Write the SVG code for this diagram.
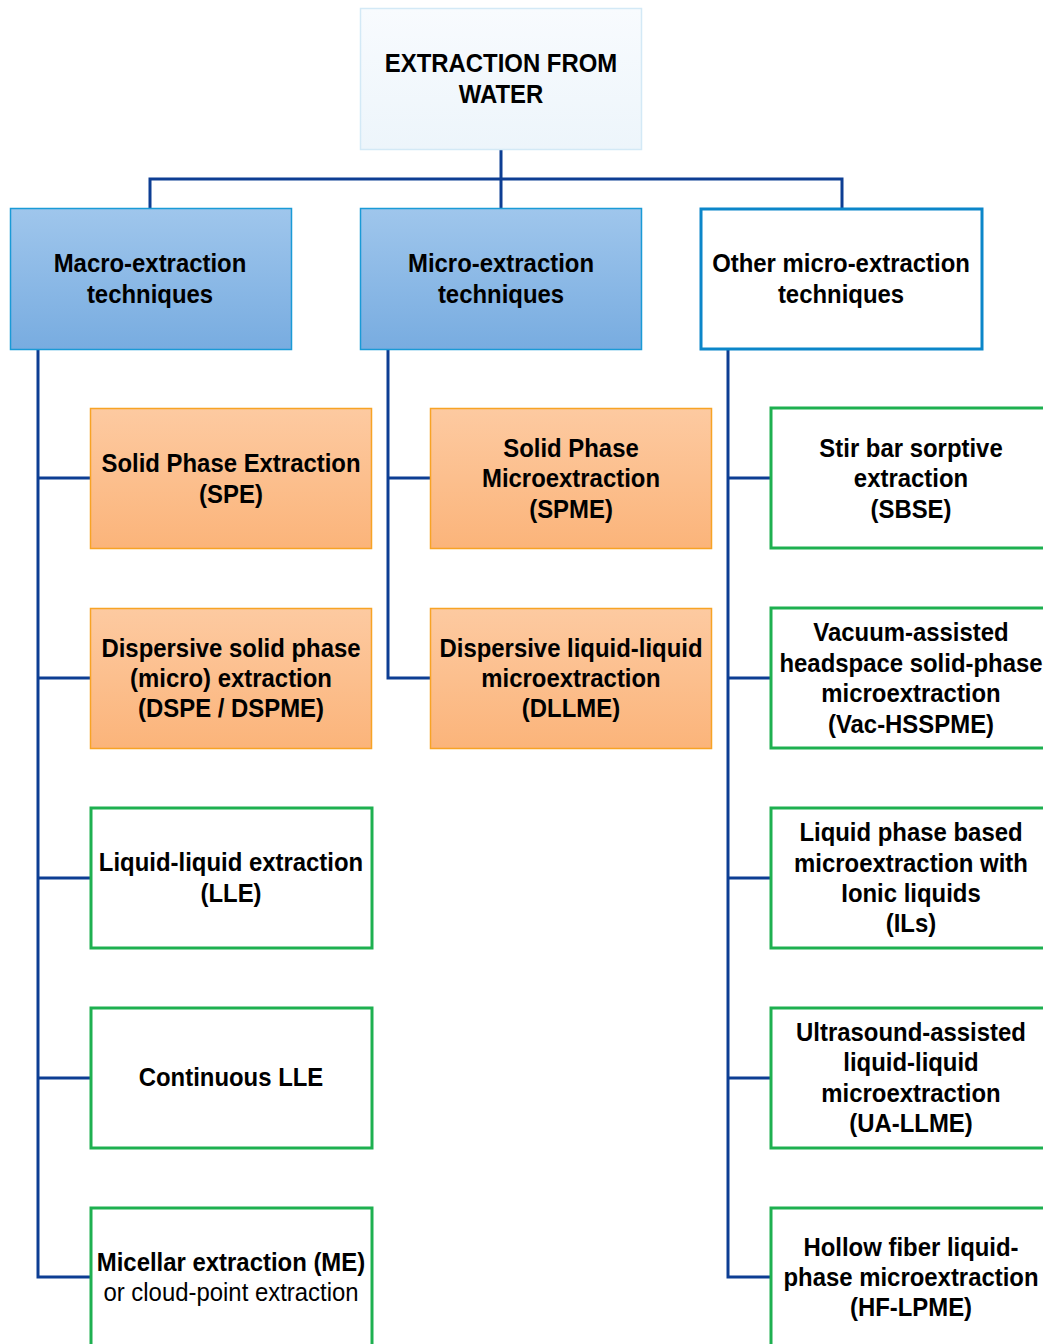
<svg xmlns="http://www.w3.org/2000/svg" width="1043" height="1344" viewBox="0 0 1043 1344">
  <defs>
    <linearGradient id="gBlue" x1="0" y1="0" x2="0" y2="1">
      <stop offset="0" stop-color="#9fc6ec"/>
      <stop offset="1" stop-color="#78ace0"/>
    </linearGradient>
    <linearGradient id="gOrange" x1="0" y1="0" x2="0" y2="1">
      <stop offset="0" stop-color="#fdcaa1"/>
      <stop offset="1" stop-color="#fbb47a"/>
    </linearGradient>
    <linearGradient id="gPale" x1="0" y1="0" x2="0" y2="1">
      <stop offset="0" stop-color="#f8fbfe"/>
      <stop offset="1" stop-color="#edf5fb"/>
    </linearGradient>
    <style>
      .lbl { font-family: "Liberation Sans", Arial, sans-serif; font-size: 26px; font-weight: bold; fill: #000; text-anchor: middle; }
      .reg { font-weight: normal; }
      .root { fill: url(#gPale); stroke: #d3e9f6; stroke-width: 1.5; }
      .cat { fill: url(#gBlue); stroke: #1a9ad6; stroke-width: 1.5; }
      .catw { fill: #fff; stroke: #0b86c9; stroke-width: 3; }
      .orange { fill: url(#gOrange); stroke: #f7a325; stroke-width: 1.5; }
      .green { fill: #fff; stroke: #1eb050; stroke-width: 3; }
      .conn { fill: none; stroke: #0d3e93; stroke-width: 3; }
    </style>
  </defs>

  <!-- connectors -->
  <g id="connectors" class="conn">
    <path d="M501 149 V208 M150 208 V179 H842 V208"/>
    <!-- macro branch -->
    <path d="M38 349 V1277 H90 M38 478 H90 M38 678 H90 M38 878 H90 M38 1078 H90"/>
    <!-- micro branch -->
    <path d="M388 349 V678 H430 M388 478 H430"/>
    <!-- other micro branch -->
    <path d="M728 349 V1277 H770 M728 478 H770 M728 678 H770 M728 878 H770 M728 1078 H770"/>
  </g>

  <!-- root -->
  <g id="root">
    <rect class="root" x="360.5" y="8.5" width="281" height="141"/>
    <text class="lbl" transform="matrix(0.92 0 0 1 501 0)" x="0" y="72">EXTRACTION FROM</text>
    <text class="lbl" transform="matrix(0.92 0 0 1 501 0)" x="0" y="103">WATER</text>
  </g>

  <!-- level 2 -->
  <g id="macro">
    <rect class="cat" x="10.5" y="208.5" width="281" height="141"/>
    <text class="lbl" transform="matrix(0.92 0 0 1 150 0)" x="0" y="272">Macro-extraction</text>
    <text class="lbl" transform="matrix(0.92 0 0 1 150 0)" x="0" y="303">techniques</text>
  </g>
  <g id="micro">
    <rect class="cat" x="360.5" y="208.5" width="281" height="141"/>
    <text class="lbl" transform="matrix(0.92 0 0 1 501 0)" x="0" y="272">Micro-extraction</text>
    <text class="lbl" transform="matrix(0.92 0 0 1 501 0)" x="0" y="303">techniques</text>
  </g>
  <g id="other">
    <rect class="catw" x="701" y="209" width="281" height="140"/>
    <text class="lbl" transform="matrix(0.92 0 0 1 841 0)" x="0" y="272">Other micro-extraction</text>
    <text class="lbl" transform="matrix(0.92 0 0 1 841 0)" x="0" y="303">techniques</text>
  </g>

  <!-- macro column -->
  <g id="spe">
    <rect class="orange" x="90.5" y="408.5" width="281" height="140"/>
    <text class="lbl" transform="matrix(0.92 0 0 1 231 0)" x="0" y="472">Solid Phase Extraction</text>
    <text class="lbl" transform="matrix(0.92 0 0 1 231 0)" x="0" y="503">(SPE)</text>
  </g>
  <g id="dspe">
    <rect class="orange" x="90.5" y="608.5" width="281" height="140"/>
    <text class="lbl" transform="matrix(0.92 0 0 1 231 0)" x="0" y="657">Dispersive solid phase</text>
    <text class="lbl" transform="matrix(0.92 0 0 1 231 0)" x="0" y="687">(micro) extraction</text>
    <text class="lbl" transform="matrix(0.92 0 0 1 231 0)" x="0" y="717">(DSPE / DSPME)</text>
  </g>
  <g id="lle">
    <rect class="green" x="91" y="808" width="281" height="140"/>
    <text class="lbl" transform="matrix(0.92 0 0 1 231 0)" x="0" y="871">Liquid-liquid extraction</text>
    <text class="lbl" transform="matrix(0.92 0 0 1 231 0)" x="0" y="902">(LLE)</text>
  </g>
  <g id="clle">
    <rect class="green" x="91" y="1008" width="281" height="140"/>
    <text class="lbl" transform="matrix(0.92 0 0 1 231 0)" x="0" y="1086">Continuous LLE</text>
  </g>
  <g id="me">
    <rect class="green" x="91" y="1208" width="281" height="150"/>
    <text class="lbl" transform="matrix(0.92 0 0 1 231 0)" x="0" y="1271">Micellar extraction (ME)</text>
    <text class="lbl reg" transform="matrix(0.92 0 0 1 231 0)" x="0" y="1301">or cloud-point extraction</text>
  </g>

  <!-- micro column -->
  <g id="spme">
    <rect class="orange" x="430.5" y="408.5" width="281" height="140"/>
    <text class="lbl" transform="matrix(0.92 0 0 1 571 0)" x="0" y="457">Solid Phase</text>
    <text class="lbl" transform="matrix(0.92 0 0 1 571 0)" x="0" y="487">Microextraction</text>
    <text class="lbl" transform="matrix(0.92 0 0 1 571 0)" x="0" y="518">(SPME)</text>
  </g>
  <g id="dllme">
    <rect class="orange" x="430.5" y="608.5" width="281" height="140"/>
    <text class="lbl" transform="matrix(0.92 0 0 1 571 0)" x="0" y="657">Dispersive liquid-liquid</text>
    <text class="lbl" transform="matrix(0.92 0 0 1 571 0)" x="0" y="687">microextraction</text>
    <text class="lbl" transform="matrix(0.92 0 0 1 571 0)" x="0" y="717">(DLLME)</text>
  </g>

  <!-- other column -->
  <g id="sbse">
    <rect class="green" x="771" y="408" width="290" height="140"/>
    <text class="lbl" transform="matrix(0.92 0 0 1 911 0)" x="0" y="457">Stir bar sorptive</text>
    <text class="lbl" transform="matrix(0.92 0 0 1 911 0)" x="0" y="487">extraction</text>
    <text class="lbl" transform="matrix(0.92 0 0 1 911 0)" x="0" y="518">(SBSE)</text>
  </g>
  <g id="vac-hsspme">
    <rect class="green" x="771" y="608" width="290" height="140"/>
    <text class="lbl" transform="matrix(0.92 0 0 1 911 0)" x="0" y="641">Vacuum-assisted</text>
    <text class="lbl" transform="matrix(0.92 0 0 1 911 0)" x="0" y="672">headspace solid-phase</text>
    <text class="lbl" transform="matrix(0.92 0 0 1 911 0)" x="0" y="702">microextraction</text>
    <text class="lbl" transform="matrix(0.92 0 0 1 911 0)" x="0" y="733">(Vac-HSSPME)</text>
  </g>
  <g id="ils">
    <rect class="green" x="771" y="808" width="290" height="140"/>
    <text class="lbl" transform="matrix(0.92 0 0 1 911 0)" x="0" y="841">Liquid phase based</text>
    <text class="lbl" transform="matrix(0.92 0 0 1 911 0)" x="0" y="872">microextraction with</text>
    <text class="lbl" transform="matrix(0.92 0 0 1 911 0)" x="0" y="902">Ionic liquids</text>
    <text class="lbl" transform="matrix(0.92 0 0 1 911 0)" x="0" y="932">(ILs)</text>
  </g>
  <g id="ua-llme">
    <rect class="green" x="771" y="1008" width="290" height="140"/>
    <text class="lbl" transform="matrix(0.92 0 0 1 911 0)" x="0" y="1041">Ultrasound-assisted</text>
    <text class="lbl" transform="matrix(0.92 0 0 1 911 0)" x="0" y="1071">liquid-liquid</text>
    <text class="lbl" transform="matrix(0.92 0 0 1 911 0)" x="0" y="1102">microextraction</text>
    <text class="lbl" transform="matrix(0.92 0 0 1 911 0)" x="0" y="1132">(UA-LLME)</text>
  </g>
  <g id="hf-lpme">
    <rect class="green" x="771" y="1208" width="290" height="150"/>
    <text class="lbl" transform="matrix(0.92 0 0 1 911 0)" x="0" y="1256">Hollow fiber liquid-</text>
    <text class="lbl" transform="matrix(0.92 0 0 1 911 0)" x="0" y="1286">phase microextraction</text>
    <text class="lbl" transform="matrix(0.92 0 0 1 911 0)" x="0" y="1316">(HF-LPME)</text>
  </g>
</svg>
